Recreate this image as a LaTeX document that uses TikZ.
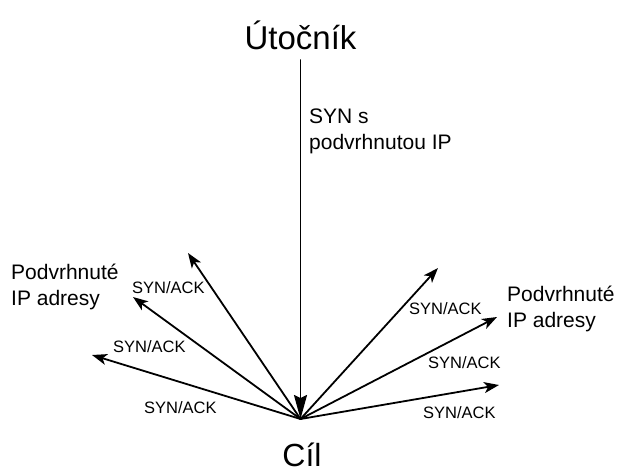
\documentclass[tikz,border=0pt]{standalone}
\usepackage{fontspec}
\setmainfont{Liberation Sans}
\usetikzlibrary{arrows.meta}
\begin{document}
\begin{tikzpicture}[x=1pt,y=-1pt,
  line/.style={line width=1.8pt, line cap=round},
  bigtip/.style={-{Stealth[length=24pt,width=13pt,inset=3pt]}},
  smalltip/.style={-{Stealth[length=15pt,width=11pt,inset=4pt]}},
  ack/.style={font=\fontsize{16.5}{19}\selectfont, inner sep=0pt, anchor=base west},
  midtxt/.style={font=\fontsize{21}{26}\selectfont, inner sep=0pt, align=left, anchor=base west},
  bigtxt/.style={font=\fontsize{33}{38}\selectfont, inner sep=0pt, anchor=base}]
\useasboundingbox (0,0) rectangle (617,474);
% main labels
\node[bigtxt] (att) at (300.5,49) {Útočník};
\node[bigtxt, font=\fontsize{32}{37}\selectfont] (tgt) at (302,466) {Cíl};
% convergence point and arrow ends
\coordinate (c) at (300.5,419);
\coordinate (top) at (300.5,60);
\coordinate (l1) at (188,253);
\coordinate (l2) at (133,297);
\coordinate (l3) at (92,355);
\coordinate (r1) at (438,268);
\coordinate (r2) at (497,317);
\coordinate (r3) at (499,385);
% arrows
\draw[line, bigtip] (top) -- (c);
\draw[line, smalltip] (c) -- (l1);
\draw[line, smalltip] (c) -- (l2);
\draw[line, smalltip] (c) -- (l3);
\draw[line, smalltip] (c) -- (r1);
\draw[line, smalltip] (c) -- (r2);
\draw[line, smalltip] (c) -- (r3);
% texts (base anchor = baseline of last line)
\node[midtxt] (syn) at (309,149) {SYN s\\podvrhnutou IP};
\node[midtxt] (pl) at (11,305) {Podvrhnuté\\IP adresy};
\node[midtxt] (pr) at (507,327) {Podvrhnuté\\IP adresy};
\node[ack] (a1) at (132,293) {SYN/ACK};
\node[ack] (a2) at (113,352) {SYN/ACK};
\node[ack] (a3) at (144,413) {SYN/ACK};
\node[ack] (a4) at (409,314) {SYN/ACK};
\node[ack] (a5) at (428,368) {SYN/ACK};
\node[ack] (a6) at (423,418) {SYN/ACK};
\end{tikzpicture}
\end{document}
